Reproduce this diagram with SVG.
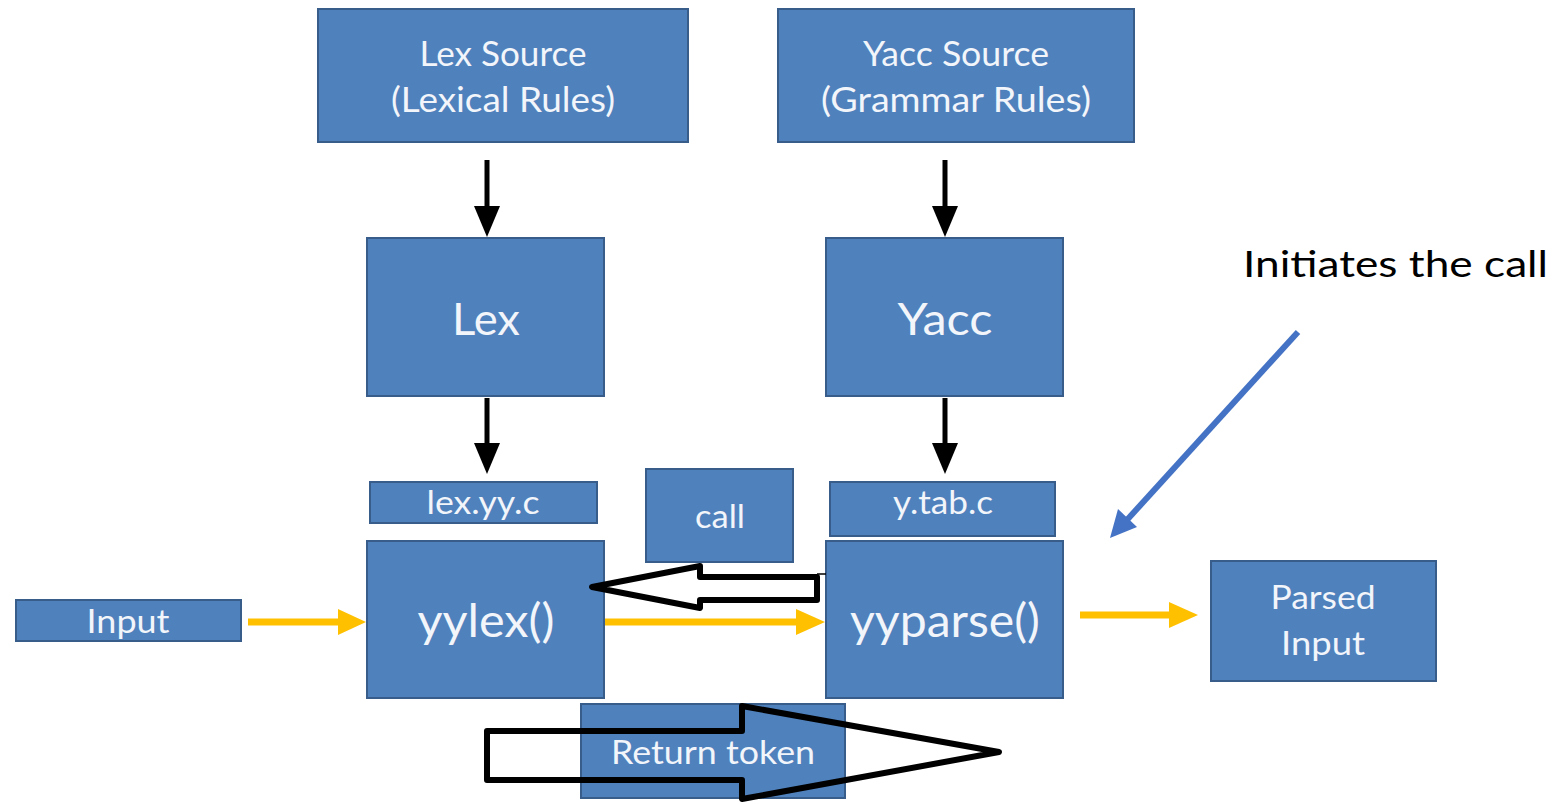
<svg xmlns="http://www.w3.org/2000/svg" width="1555" height="804" viewBox="0 0 1555 804">
  <style>
    .box { fill: #4F81BD; stroke: #385D8A; stroke-width: 2; }
    .lbl { font-family: Lato, "Liberation Sans", Arial, sans-serif; fill: #F2F5FA; text-anchor: middle; }
    .blk { stroke: #000; stroke-width: 5; fill: none; }
    .yel { stroke: #FFC000; stroke-width: 7; fill: none; }
    .hollow { fill: none; stroke: #000; stroke-width: 6; stroke-linejoin: round; }
  </style>
  <rect width="1555" height="804" fill="#FFFFFF"/>

  <g id="lex-source">
    <rect class="box" x="318" y="9" width="370" height="133"/>
    <text class="lbl" x="503" y="66" font-size="34" textLength="167" lengthAdjust="spacingAndGlyphs">Lex Source</text>
    <text class="lbl" x="503" y="112" font-size="34" textLength="224" lengthAdjust="spacingAndGlyphs">(Lexical Rules)</text>
  </g>
  <g id="yacc-source">
    <rect class="box" x="778" y="9" width="356" height="133"/>
    <text class="lbl" x="956" y="66" font-size="34" textLength="186" lengthAdjust="spacingAndGlyphs">Yacc Source</text>
    <text class="lbl" x="956" y="112" font-size="34" textLength="270" lengthAdjust="spacingAndGlyphs">(Grammar Rules)</text>
  </g>
  <g id="lex">
    <rect class="box" x="367" y="238" width="237" height="158"/>
    <text class="lbl" x="486" y="335" font-size="45" textLength="68" lengthAdjust="spacingAndGlyphs">Lex</text>
  </g>
  <g id="yacc">
    <rect class="box" x="826" y="238" width="237" height="158"/>
    <text class="lbl" x="945" y="335" font-size="45" textLength="95" lengthAdjust="spacingAndGlyphs">Yacc</text>
  </g>
  <g id="lex-yy-c">
    <rect class="box" x="370" y="482" width="227" height="41"/>
    <text class="lbl" x="483" y="514" font-size="32" textLength="113" lengthAdjust="spacingAndGlyphs">lex.yy.c</text>
  </g>
  <g id="call">
    <rect class="box" x="646" y="469" width="147" height="93"/>
    <text class="lbl" x="720" y="528" font-size="32" textLength="50" lengthAdjust="spacingAndGlyphs">call</text>
  </g>
  <g id="y-tab-c">
    <rect class="box" x="830" y="482" width="225" height="54"/>
    <text class="lbl" x="943" y="514" font-size="32" textLength="100" lengthAdjust="spacingAndGlyphs">y.tab.c</text>
  </g>
  <g id="yylex">
    <rect class="box" x="367" y="541" width="237" height="157"/>
    <text class="lbl" x="486" y="637" font-size="47" textLength="137" lengthAdjust="spacingAndGlyphs">yylex()</text>
  </g>
  <g id="yyparse">
    <rect class="box" x="826" y="541" width="237" height="157"/>
    <text class="lbl" x="945" y="637" font-size="47" textLength="190" lengthAdjust="spacingAndGlyphs">yyparse()</text>
  </g>
  <g id="input">
    <rect class="box" x="16" y="600" width="225" height="41"/>
    <text class="lbl" x="128" y="633" font-size="32" textLength="83" lengthAdjust="spacingAndGlyphs">Input</text>
  </g>
  <g id="parsed-input">
    <rect class="box" x="1211" y="561" width="225" height="120"/>
    <text class="lbl" x="1323" y="609" font-size="32" textLength="105" lengthAdjust="spacingAndGlyphs">Parsed</text>
    <text class="lbl" x="1323" y="655" font-size="32" textLength="84" lengthAdjust="spacingAndGlyphs">Input</text>
  </g>
  <g id="return-token">
    <rect class="box" x="581" y="704" width="264" height="94"/>
    <text class="lbl" x="713" y="764" font-size="32" textLength="204" lengthAdjust="spacingAndGlyphs">Return token</text>
  </g>

  <g id="note">
    <text x="1243" y="277" font-family="Lato, 'Liberation Sans', Arial, sans-serif" font-size="37" fill="#000" textLength="305" lengthAdjust="spacingAndGlyphs">Initiates the call</text>
  </g>

  <g id="connectors">
    <!-- generation steps -->
    <line class="blk" x1="487" y1="160" x2="487" y2="210"/>
    <polygon points="474,206 500,206 487,237" fill="#000"/>
    <line class="blk" x1="945" y1="160" x2="945" y2="210"/>
    <polygon points="932,206 958,206 945,237" fill="#000"/>
    <line class="blk" x1="487" y1="398" x2="487" y2="447"/>
    <polygon points="474,443 500,443 487,474" fill="#000"/>
    <line class="blk" x1="945" y1="398" x2="945" y2="447"/>
    <polygon points="932,443 958,443 945,474" fill="#000"/>

    <!-- data flow -->
    <line class="yel" x1="248" y1="622" x2="342" y2="622"/>
    <polygon points="338,609 366,622 338,635" fill="#FFC000"/>
    <line class="yel" x1="605" y1="622" x2="800" y2="622"/>
    <polygon points="796,609 825,622 796,635" fill="#FFC000"/>
    <line class="yel" x1="1080" y1="615" x2="1173" y2="615"/>
    <polygon points="1169,602 1198,615 1169,628" fill="#FFC000"/>

    <!-- call: yyparse to yylex -->
    <polygon class="hollow" points="817,577 700,577 700,566 592,587 700,608 700,600 817,600"/>
    <line x1="817" y1="574" x2="826" y2="574" stroke="#000" stroke-width="1.5"/>

    <!-- return token: yylex to yyparse -->
    <polygon class="hollow" stroke-width="7" points="487,731 742,731 742,706 999,752 742,799 742,780 487,780"/>

    <!-- note pointer -->
    <line x1="1298" y1="332" x2="1126" y2="521" stroke="#4472C4" stroke-width="6"/>
    <polygon points="1110,538 1118,509 1137,527" fill="#4472C4"/>
  </g>
</svg>
